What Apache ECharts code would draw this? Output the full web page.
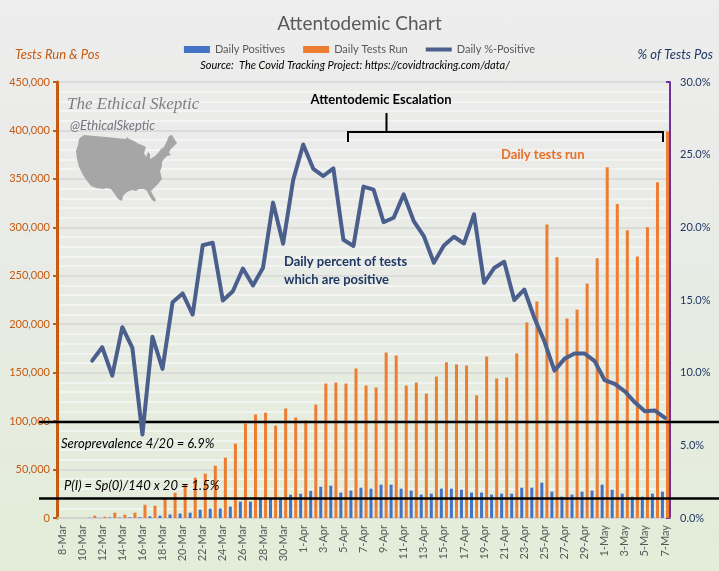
<!DOCTYPE html>
<html>
<head>
<meta charset="utf-8">
<script src="https://cdn.jsdelivr.net/npm/echarts@6/dist/echarts.min.js"></script>
<style>
html,body{margin:0;padding:0;}
#chart{width:719px;height:571px;background:linear-gradient(to bottom,#ededed 0%,#e9ebe6 45%,#e3edd8 100%);}
</style>
</head>
<body>
<div id="chart"></div>
<script>
const dates = ['8-Mar','9-Mar','10-Mar','11-Mar','12-Mar','13-Mar','14-Mar','15-Mar','16-Mar','17-Mar','18-Mar','19-Mar','20-Mar','21-Mar','22-Mar','23-Mar','24-Mar','25-Mar','26-Mar','27-Mar','28-Mar','29-Mar','30-Mar','31-Mar',
'1-Apr','2-Apr','3-Apr','4-Apr','5-Apr','6-Apr','7-Apr','8-Apr','9-Apr','10-Apr','11-Apr','12-Apr','13-Apr','14-Apr','15-Apr','16-Apr','17-Apr','18-Apr','19-Apr','20-Apr','21-Apr','22-Apr','23-Apr','24-Apr','25-Apr','26-Apr','27-Apr','28-Apr','29-Apr','30-Apr',
'1-May','2-May','3-May','4-May','5-May','6-May','7-May'];

const dailyPositives = [null,null,null,260,150,540,450,640,790,1700,2400,3600,4600,5500,8600,9600,9800,11700,16900,16900,19900,20500,21000,24000,
25000,28000,32300,33400,26200,28300,31300,30300,34400,34400,30300,28300,24100,25100,30300,30300,29200,26200,26200,24100,25100,25100,31300,31300,36500,27200,22000,24100,27200,28300,
34400,29200,25100,22000,22000,25100,27200];

const dailyTests = [null,null,null,2400,1300,5500,3400,5500,13700,12700,19900,26000,34400,41600,45800,54000,62300,76800,97500,106800,108700,95400,113000,103700,
100600,117000,138800,139800,138800,154300,136700,134600,170800,167700,136700,139800,128400,146000,160700,158500,157400,126600,166700,144000,145000,169800,201800,223500,303000,269000,206000,215000,242000,268000,
362000,324000,297000,270000,300000,346600,399000];

const pctPositive = [null,null,null,10.83,11.75,9.8,13.13,11.7,5.74,12.47,10.26,14.85,15.45,14.0,18.77,18.94,14.97,15.6,17.17,16.0,17.22,21.7,18.87,23.25,
25.7,24.03,23.53,24.06,19.15,18.72,22.8,22.6,20.36,20.66,22.27,20.43,19.4,17.56,18.75,19.35,18.89,20.89,16.18,17.2,17.63,15.0,15.72,13.77,12.16,10.14,10.95,11.32,11.32,10.79,
9.48,9.23,8.72,7.96,7.34,7.39,6.89];

const refLines = [99000, 20000];

// rough US silhouette (decoration)
const usShape = [[8,0],[30,2],[50,4],[51,2],[53,4],[58,6],[63,9],[66,10],[70,12],[68,18],[70,22],[72,17],[74,19],[74,24],[79,21],[82,18],[85,14],[88,12],[90,8],[93,1],[96,0],[99,5],[101,8],[97,12],[94,15],[93,18],[95,20],[91,21],[88,24],[86,27],[86,31],[85,34],[84,36],[85,40],[86,44],[82,49],[78,53],[75,56],[77,60],[80,65],[79,67],[76,65],[73,60],[71,56],[68,54],[63,54],[60,56],[56,55],[51,57],[47,61],[46,66],[42,64],[38,58],[35,54],[30,53],[28,54],[20,53],[15,51],[11,46],[7,40],[3,32],[1,24],[0,16],[2,10],[3,4],[5,2]];

const FONT = 'Lato';
const chart = echarts.init(document.getElementById('chart'));

const option = {
  backgroundColor: 'transparent',
  animation: false,
  textStyle: {fontFamily: FONT},
  title: {
    text: 'Attentodemic Chart', left: 'center', top: 9,
    textStyle: {fontFamily: FONT, fontSize: 19, fontWeight: 'normal', color: '#595959'}
  },
  legend: {
    top: 39, left: 'center', itemWidth: 26, itemHeight: 7, itemGap: 18,
    textStyle: {fontFamily: FONT, fontSize: 11, color: '#595959'},
    data: [
      {name: 'Daily Positives', icon: 'rect'},
      {name: 'Daily Tests Run', icon: 'rect'},
      {name: 'Daily %-Positive', icon: 'path://M0,0L26,0L26,4L0,4Z', itemStyle: {color: '#4a5f8c'}}
    ]
  },
  grid: {left: 57, right: 49, top: 82, bottom: 53, containLabel: false},
  xAxis: {
    type: 'category', data: dates, boundaryGap: true,
    axisLine: {lineStyle: {color: '#d0d0d0', width: 1.5}},
    axisTick: {interval: 1, length: 5, lineStyle: {color: '#d0d0d0'}},
    axisLabel: {interval: 1, rotate: 90, fontSize: 11, color: '#595959', fontFamily: FONT, margin: 7}
  },
  yAxis: [
    {
      type: 'value', min: 0, max: 450000, interval: 50000, position: 'left',
      axisLine: {show: true, lineStyle: {color: '#c55a11', width: 3}},
      axisTick: {show: true, length: 4, lineStyle: {color: '#c55a11', width: 2}},
      axisLabel: {fontSize: 11, color: '#c55a11', fontFamily: FONT, margin: 7,
        formatter: v => v === 0 ? '0' : v.toLocaleString('en-US')},
      splitLine: {lineStyle: {color: '#d6d6d6', width: 1.5}},
      minorTick: {show: false, splitNumber: 5},
      minorSplitLine: {show: true, lineStyle: {color: '#f6f6f6', width: 1.5}}
    },
    {
      type: 'value', min: 0, max: 30, interval: 5, position: 'right',
      axisLine: {show: true, lineStyle: {color: '#7030a0', width: 2}},
      axisTick: {show: true, inside: true, length: 4, lineStyle: {color: '#7030a0', width: 2}},
      axisLabel: {fontSize: 11, color: '#1f3864', fontFamily: FONT, margin: 10,
        formatter: v => v.toFixed(1) + '%'},
      splitLine: {show: false}
    }
  ],
  series: [
    {name: 'Daily Positives', type: 'bar', data: dailyPositives, yAxisIndex: 0,
      barWidth: 3, barGap: '70%', itemStyle: {color: '#4472c4'}, z: 2},
    {name: 'Daily Tests Run', type: 'bar', data: dailyTests, yAxisIndex: 0,
      barWidth: 3, barGap: '70%', itemStyle: {color: '#ed7d31'}, z: 2},
    {name: 'Daily %-Positive', type: 'line', data: pctPositive, yAxisIndex: 1,
      symbol: 'none', showSymbol: false, connectNulls: false, z: 6,
      lineStyle: {color: '#4a5f8c', width: 4, join: 'round', cap: 'round'},
      itemStyle: {color: '#4a5f8c'}}
  ]
};
chart.setOption(option);

const ox = 76, oy = 135;
const graphics = [];
refLines.forEach(v => {
  const y = chart.convertToPixel({yAxisIndex: 0}, v);
  graphics.push({type: 'line', z: 3, shape: {x1: 39, y1: y, x2: 719, y2: y}, style: {stroke: '#000', lineWidth: 2.5}});
});
graphics.push(
  {type: 'polygon', z: 1, shape: {points: usShape.map(p => [ox + p[0], oy + p[1]])}, style: {fill: '#a6a6a6'}},
  {type: 'text', z: 10, x: 67, y: 105, style: {text: 'The Ethical Skeptic', font: 'italic 17px "Liberation Serif"', fill: '#7f7f7f', verticalAlign: 'middle'}},
  {type: 'text', z: 10, x: 70, y: 126, style: {text: '@EthicalSkeptic', font: 'italic 13px Lato', fill: '#767680', verticalAlign: 'middle'}},
  {type: 'text', z: 10, x: 15, y: 55, style: {text: 'Tests Run & Pos', font: 'italic 13px Lato', fill: '#c55a11', verticalAlign: 'middle'}},
  {type: 'text', z: 10, x: 713, y: 55, style: {text: '% of Tests Pos', font: 'italic 13px Lato', fill: '#1f3864', align: 'right', verticalAlign: 'middle'}},
  {type: 'text', z: 10, x: 355, y: 65, style: {text: 'Source:  The Covid Tracking Project: https://covidtracking.com/data/', font: 'italic 11px Lato', fill: '#000', align: 'center', verticalAlign: 'middle'}},
  {type: 'text', z: 10, x: 381, y: 100, style: {text: 'Attentodemic Escalation', font: 'bold 13px Lato', fill: '#000', align: 'center', verticalAlign: 'middle'}},
  {type: 'polyline', z: 10, shape: {points: [[348,142],[348,132],[663,132],[663,142]]}, style: {stroke: '#000', lineWidth: 2, fill: null}},
  {type: 'line', z: 10, shape: {x1: 386.5, y1: 132, x2: 386.5, y2: 113}, style: {stroke: '#000', lineWidth: 2}},
  {type: 'text', z: 10, x: 501, y: 155, style: {text: 'Daily tests run', font: 'bold 13px Lato', fill: '#e8702a', verticalAlign: 'middle'}},
  {type: 'text', z: 10, x: 284, y: 262, style: {text: 'Daily percent of tests', font: 'bold 13px Lato', fill: '#1f3864', verticalAlign: 'middle'}},
  {type: 'text', z: 10, x: 284, y: 280, style: {text: 'which are positive', font: 'bold 13px Lato', fill: '#1f3864', verticalAlign: 'middle'}},
  {type: 'text', z: 10, x: 61, y: 444, style: {text: 'Seroprevalence 4/20 = 6.9%', font: 'italic 13px Lato', fill: '#000', verticalAlign: 'middle'}},
  {type: 'text', z: 10, x: 64, y: 486, style: {text: 'P(I) = Sp(0)/140 x 20 = 1.5%', font: 'italic 13px Lato', fill: '#000', verticalAlign: 'middle'}}
);
chart.setOption({graphic: graphics});
</script>
</body>
</html>
